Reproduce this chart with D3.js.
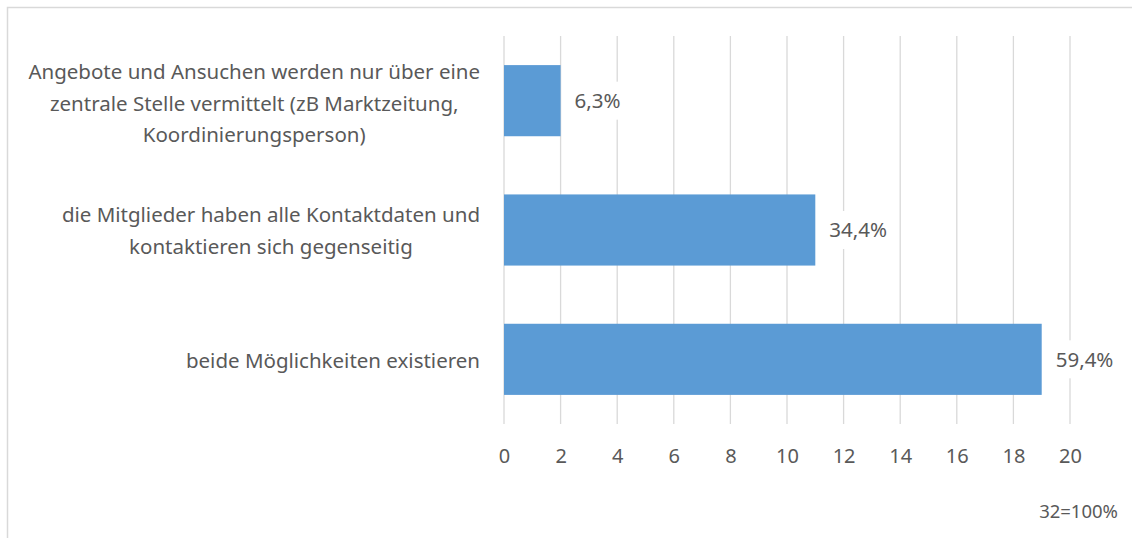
<!DOCTYPE html>
<meta charset="utf-8">
<style>
  body { margin: 0; background: #fff; }
  text { font-family: "Noto Sans", "Open Sans", sans-serif; fill: #595959; }
  .grid line { stroke: #d9d9d9; stroke-width: 1.3px; }
</style>
<body>
<div id="chart"></div>
<script src="https://d3js.org/d3.v7.min.js"></script>
<script>
  // chart data
  var categories = [
    ["Angebote und Ansuchen werden nur über eine", "zentrale Stelle vermittelt (zB Marktzeitung,", "Koordinierungsperson)"],
    ["die Mitglieder haben alle Kontaktdaten und", "kontaktieren sich gegenseitig"],
    ["beide Möglichkeiten existieren"]
  ];
  var counts = [2, 11, 19];
  var percentLabels = ["6,3%", "34,4%", "59,4%"];
  var xTicks = [0, 2, 4, 6, 8, 10, 12, 14, 16, 18, 20];
  var note = "32=100%";

  var W = 1132, H = 538;
  var plot = { left: 504, right: 1070, top: 36, bottom: 424 };

  var svg = d3.select("#chart").append("svg")
    .attr("width", W).attr("height", H);

  // outer border of the chart (cropped on right/bottom)
  svg.append("rect")
    .attr("x", 7.5).attr("y", 7.5)
    .attr("width", W + 20).attr("height", H + 20)
    .attr("fill", "none").attr("stroke", "#d9d9d9").attr("stroke-width", 1.5);

  var x = d3.scaleLinear().domain([0, 20]).range([plot.left, plot.right]);
  var y = d3.scaleBand()
    .domain(d3.range(categories.length))
    .range([plot.top, plot.bottom])
    .paddingInner(0.45).paddingOuter(0.225);

  // vertical gridlines
  svg.append("g").attr("class", "grid")
    .selectAll("line").data(xTicks).enter().append("line")
    .attr("x1", d => x(d)).attr("x2", d => x(d))
    .attr("y1", plot.top).attr("y2", plot.bottom);

  // x axis labels
  var xAxis = d3.axisBottom(x).tickValues(xTicks).tickSize(0).tickPadding(0);
  var ax = svg.append("g").attr("transform", "translate(0," + 463 + ")").call(xAxis);
  ax.select(".domain").remove();
  ax.selectAll("text")
    .attr("dy", 0)
    .style("font-size", "20px")
    .style("font-family", "\"Noto Sans\", sans-serif")
    .attr("fill", "#595959");

  // bars
  svg.selectAll("rect.bar").data(counts).enter().append("rect")
    .attr("class", "bar")
    .attr("x", x(0))
    .attr("y", (d, i) => y(i))
    .attr("width", d => x(d) - x(0))
    .attr("height", y.bandwidth())
    .attr("fill", "#5b9bd5");

  // data labels with white background
  var lab = svg.selectAll("g.lab").data(counts).enter().append("g")
    .attr("class", "lab")
    .attr("transform", (d, i) => "translate(" + (x(d) + 14) + "," + (y(i) + y.bandwidth() / 2) + ")");
  lab.append("rect")
    .attr("x", -4).attr("y", -19).attr("height", 38)
    .attr("fill", "#fff");
  lab.append("text")
    .attr("dy", "0.35em")
    .style("font-size", "20.5px")
    .text((d, i) => percentLabels[i]);
  lab.each(function () {
    var g = d3.select(this);
    var w = g.select("text").node().getComputedTextLength();
    g.select("rect").attr("width", w + 8);
  });

  // category labels: block right-aligned, lines centered inside block
  var lineH = 31.5;
  categories.forEach(function (lines, i) {
    var g = svg.append("g");
    var cy = y(i) + y.bandwidth() / 2 + (lines.length > 2 ? 3 : 1);
    var t = g.selectAll("text").data(lines).enter().append("text")
      .attr("text-anchor", "middle")
      .attr("dy", "0.35em")
      .style("font-size", "20.5px")
      .attr("y", (d, k) => cy + (k - (lines.length - 1) / 2) * lineH)
      .text(d => d);
    var maxW = d3.max(t.nodes(), n => n.getComputedTextLength());
    t.attr("x", 480 - maxW / 2);
  });

  // note
  svg.append("text")
    .attr("x", 1118).attr("y", 512)
    .attr("dy", "0.35em")
    .attr("text-anchor", "end")
    .style("font-size", "18.5px")
    .text(note);
</script>
</body>
